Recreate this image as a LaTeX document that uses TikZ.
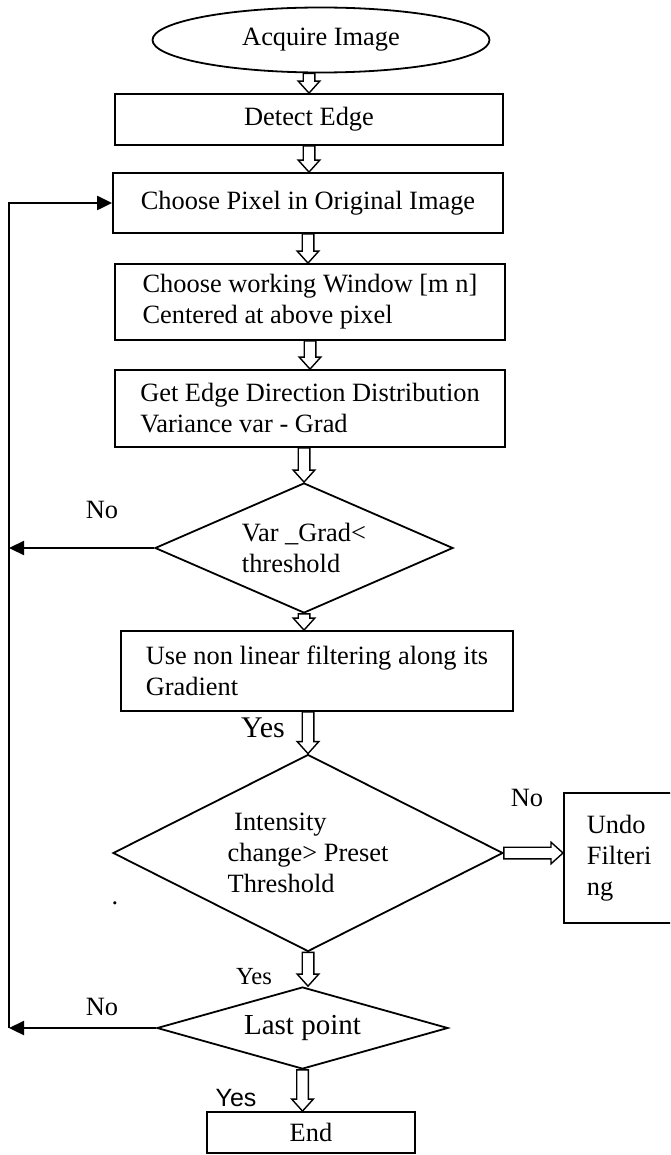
\documentclass[tikz,border=0pt]{standalone}
\usepackage{fontspec}
\setmainfont{Liberation Serif}
\newfontfamily\arialfont{Liberation Sans}
\usepackage{tikz}
\usetikzlibrary{calc,positioning,shapes.geometric,arrows.meta}

\newcommand{\mainsize}{\fontsize{13.2}{15.5}\selectfont}
% hollow block arrow from #1 to #2
\newcommand{\blockarrow}[2]{%
    \coordinate (ba-s) at (#1);
    \coordinate (ba-t) at (#2);
    \coordinate (ba-h) at ($(ba-t)!6pt!(ba-s)$);
    \draw[hollow] ($(ba-s)!2.9pt!90:(ba-t)$) -- ($(ba-h)!2.9pt!90:(ba-t)$)
        -- ($(ba-h)!5.4pt!90:(ba-t)$) -- (ba-t) -- ($(ba-h)!5.4pt!-90:(ba-t)$)
        -- ($(ba-h)!2.9pt!-90:(ba-t)$) -- ($(ba-s)!2.9pt!-90:(ba-t)$) -- cycle;}

\begin{document}
\begin{tikzpicture}[
        x=0.5pt, y=-0.5pt,
        >={Triangle[length=7.5pt, width=7pt]},
        box/.style={
            rectangle,
            draw,
            line width=0.9pt,
            inner sep=0pt,
            font=\mainsize
        },
        textbox/.style={
            box,
            align=left,
            minimum width=#1
        },
        startstop/.style={
            ellipse,
            draw,
            line width=0.9pt,
            inner sep=0pt,
            font=\mainsize
        },
        decision/.style={
            diamond,
            draw,
            line width=0.9pt,
            inner sep=0pt,
            align=left,
            font=\mainsize
        },
        answer/.style={
            inner sep=0pt,
            font=\mainsize
        },
        hollow/.style={
            draw,
            fill=white,
            line width=0.7pt
        },
        arrow/.style={
            ->,
            line width=1.1pt
        }
    ]
    \useasboundingbox (0,0) rectangle (670,1155);
    \clip (0,0) rectangle (670,1155);

    % Start
    \node[startstop, minimum width=168.5pt, minimum height=32.5pt] (acq)
        at (321,40) {Acquire Image};

    % Main steps
    \node[box, align=center, minimum width=194pt, minimum height=25.5pt] (det)
        at (309,119.5) {Detect Edge};
    \node[textbox=195pt, minimum height=30pt] (pix)
        at (308,203) {Choose Pixel in Original Image};
    \node[textbox=195pt, minimum height=38pt] (win)
        at (310,302) {Choose working Window [m n]\\Centered at above pixel};
    \node[textbox=195pt, minimum height=38.5pt] (dist)
        at (310,408.5) {Get Edge Direction Distribution\\Variance var - Grad};

    % Variance test
    \node[decision, shape aspect=2.3, minimum width=149pt, minimum height=65pt] (var)
        at (304,548) {Var \_Grad<\\threshold};

    \node[textbox=196pt, minimum height=40pt] (filt)
        at (317,671) {Use non linear filtering along its\\Gradient};

    % Intensity test
    \node[decision, shape aspect=2, minimum width=195pt, minimum height=98.5pt] (int)
        at (308,853) {\hspace*{0.25em}Intensity\\change> Preset\\Threshold};
    \node[box, anchor=west, align=left, text width=40pt, inner xsep=11.5pt,
        minimum height=65pt] (undo)
        at (563,858) {Undo\\Filteri\\ng};

    % Last point test
    \node[decision, shape aspect=3.5, minimum width=145.5pt, minimum height=41pt,
        align=center, font=\fontsize{14.5}{17}\selectfont] (last)
        at (302.5,1028) {Last point};

    % End
    \node[box, align=center, minimum width=104pt, minimum height=20.5pt] (end)
        at (311,1132.5) {End};

    % Answers
    \node[answer] (no1) at (102,510) {No};
    \node[answer] (no2) at (527,798) {No};
    \node[answer] (no3) at (102,1007) {No};
    \node[answer, font=\fontsize{15}{18}\selectfont] (yes1) at (263,728) {Yes};
    \node[answer, font=\fontsize{12.3}{14}\selectfont] (yes2) at (254,977) {Yes};
    \node[answer, font=\arialfont\fontsize{12.5}{15}\selectfont] (yes3) at (236,1098) {Yes};
    \node[answer] (dot) at (115,903) {.};

    % Block arrows
    \blockarrow{acq.south -| det.north}{det.north}
    \blockarrow{det.south}{det.south |- pix.north}
    \blockarrow{pix.south}{pix.south |- win.north}
    \blockarrow{win.south}{win.south |- dist.north}
    \blockarrow{dist.south -| var.north}{var.north}
    \blockarrow{var.south}{var.south |- filt.north}
    \blockarrow{filt.south -| int.north}{int.north}
    \blockarrow{int.east}{int.east -| undo.west}
    \blockarrow{int.south}{int.south |- last.north}
    \blockarrow{last.south}{last.south |- end.north}

    % Loop back
    \coordinate (loopbot) at (9,1028);
    \draw[arrow] (var.west) -- (var.west -| loopbot);
    \draw[arrow] (last.west) -- (loopbot);
    \draw[arrow] (loopbot) |- (pix.west);

\end{tikzpicture}
\end{document}
